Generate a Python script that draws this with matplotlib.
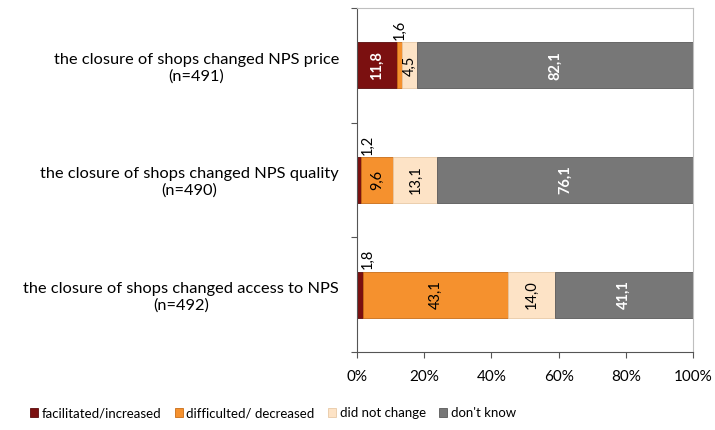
import matplotlib

matplotlib.use("Agg")
import matplotlib.pyplot as plt
import numpy as np
from matplotlib.ticker import FixedLocator, PercentFormatter

plt.rcParams["font.family"] = ["Lato", "DejaVu Sans"]

# bottom -> top, as drawn on the y axis
categories = [
    "the closure of shops changed access to NPS\n(n=492)",
    "the closure of shops changed NPS quality\n(n=490)",
    "the closure of shops changed NPS price\n(n=491)",
]
series = ["facilitated/increased", "difficulted/ decreased", "did not change", "don't know"]
facilitated = [1.8, 1.2, 11.8]
difficulted = [43.1, 9.6, 1.6]
no_change = [14.0, 13.1, 4.5]
dont_know = [41.1, 76.1, 82.1]

COLORS = ["#7b1010", "#f5912e", "#fde3c6", "#777777"]
EDGES = ["#5a0b0b", "#c96d17", "#e8c9a6", "#5a5a5a"]
TEXT_C = ["white", "black", "black", "white"]

values = np.array([facilitated, difficulted, no_change, dont_know])
y = np.arange(len(categories))
h = 0.4

fig = plt.figure(figsize=(7.15, 4.3), dpi=100)
ax = fig.add_axes([357 / 715, 1 - 352 / 430, 336 / 715, 344 / 430])

left = np.zeros(len(categories))
for i, name in enumerate(series):
    vals = values[i]
    ax.barh(y, vals, h, left=left, color=COLORS[i], edgecolor=EDGES[i],
            linewidth=0.6, label=name)
    for yi, l, v in zip(y, left, vals):
        label = f"{v:.1f}".replace(".", ",")
        if v < 3:
            # tiny segments: label sits above the bar
            xpos = max(l + v / 2, 3.3)
            ax.text(xpos, yi + h / 2 + 0.02, label, rotation=90, ha="center",
                    va="bottom", fontsize=10.5, color="black")
        else:
            ax.text(l + v / 2, yi, label, rotation=90, ha="center", va="center",
                    fontsize=10.5, color=TEXT_C[i],
                    fontweight="bold" if TEXT_C[i] == "white" else "normal")
    left += vals

ax.set_xlim(0, 100)
ax.set_ylim(-0.5, len(categories) - 0.5)
ax.xaxis.set_major_locator(FixedLocator([0, 20, 40, 60, 80, 100]))
ax.xaxis.set_major_formatter(PercentFormatter(decimals=0))
ax.tick_params(axis="x", labelsize=11, length=4, color="#555555", pad=9)

ax.yaxis.set_major_locator(FixedLocator(np.arange(-0.5, len(categories), 1)))
ax.yaxis.set_minor_locator(FixedLocator(y))
ax.set_yticklabels([], minor=False)
ax.set_yticklabels(categories, minor=True, fontsize=11.8, multialignment="center")
ax.tick_params(axis="y", which="major", length=4, color="#555555")
ax.tick_params(axis="y", which="minor", length=0, pad=13)

for s in ["top", "right"]:
    ax.spines[s].set_color("#bfbfbf")
for s in ["left", "bottom"]:
    ax.spines[s].set_color("#555555")

handles, labels = ax.get_legend_handles_labels()
fig.legend(handles, labels, loc="center", bbox_to_anchor=(273 / 715, 1 - 413 / 430),
           ncol=4, frameon=False, fontsize=9.5, handlelength=0.6, handleheight=0.6,
           handletextpad=0.3, columnspacing=1.0)

fig.savefig("out.png", dpi=100)
